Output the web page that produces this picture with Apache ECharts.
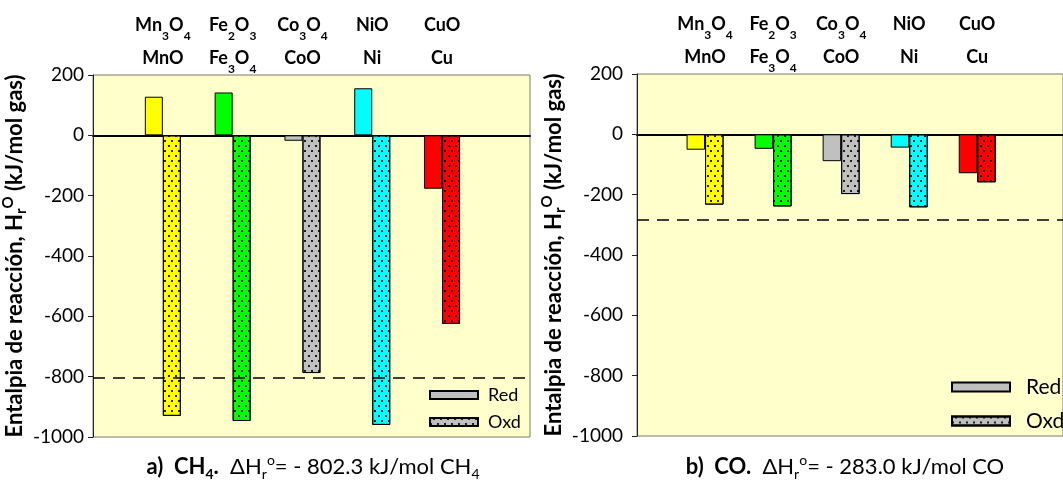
<!DOCTYPE html>
<html>
<head>
<meta charset="utf-8">
<script src="https://cdn.jsdelivr.net/npm/echarts@6/dist/echarts.min.js"></script>
<style>html,body{margin:0;padding:0;background:#fff}#c{width:1063px;height:493px}</style>
</head>
<body>
<div id="c"></div>
<script>
// ---- data ----
const oxidizedLabels = ['{b|Mn}{s|3}{b|O}{s|4}', '{b|Fe}{s|2}{b|O}{s|3}', '{b|Co}{s|3}{b|O}{s|4}', '{b|NiO}', '{b|CuO}'];
const reducedLabels = ['{b|MnO}', '{b|Fe}{s|3}{b|O}{s|4}', '{b|CoO}', '{b|Ni}', '{b|Cu}'];
const barColors = ['#FFFF00', '#00FF00', '#C0C0C0', '#00FFFF', '#FF0000'];
const ch4Red = [128, 142, -18, 156, -177];
const ch4Oxd = [-930, -947, -788, -960, -625];
const coRed = [-51, -48, -89, -44, -129];
const coOxd = [-233, -239, -198, -242, -159];
const ch4Combustion = -802.3;
const coCombustion = -283.0;
const yMin = -1000, yMax = 200, yStep = 200;
const legendNames = ['Red', 'Oxd'];

const FONT = 'Lato';
const chart = echarts.init(document.getElementById('c'), null, {renderer: 'canvas'});

const dots = {
  symbol: 'rect', symbolSize: 1, color: 'rgba(0,0,0,0.85)',
  dashArrayX: [[1.6, 4.4], [0, 3, 1.6, 1.4]], dashArrayY: [1.6, 3], rotation: 0
};

function toPoints(vals) {
  return vals.map((v, i) => ({value: [i + 1, v], itemStyle: {color: barColors[i]}}));
}

const xMax = 6.26;
function topLabel(value) {
  const r = Math.round(value);
  if (Math.abs(value - r) > 1e-6) return '';
  const i = r - 1;
  if (i < 0 || i >= oxidizedLabels.length) return '';
  return oxidizedLabels[i] + '\n' + reducedLabels[i];
}

const grids = [
  {left: 92, top: 75, width: 438, height: 362},
  {left: 637, top: 74, width: 453, height: 362}
];

const xAxes = [], yAxes = [], series = [];
const sets = [
  {red: ch4Red, oxd: ch4Oxd, ref: ch4Combustion, nameGap: 57, labelMargin: 9, barW: 18},
  {red: coRed, oxd: coOxd, ref: coCombustion, nameGap: 56, labelMargin: 14, barW: 18.5}
];

sets.forEach((s, g) => {
  xAxes.push({
    type: 'value', gridIndex: g, min: 0, max: xMax, interval: 1,
    axisLine: {onZero: true, lineStyle: {color: '#000', width: 2}},
    axisTick: {show: false}, axisLabel: {show: false}, splitLine: {show: false}
  });
  xAxes.push({
    type: 'value', gridIndex: g, position: 'top', min: 0, max: xMax, interval: 1,
    axisLine: {show: false, onZero: false}, axisTick: {show: false}, splitLine: {show: false},
    axisLabel: {
      show: true, margin: 0, formatter: topLabel, showMaxLabel: false, showMinLabel: false,
      fontFamily: FONT, fontWeight: 'bold', fontSize: 18, color: '#000', lineHeight: 33,
      rich: {
        b: {fontFamily: FONT, fontWeight: 'bold', fontSize: 18, color: '#000', lineHeight: 33},
        s: {fontFamily: FONT, fontWeight: 'bold', fontSize: 12, color: '#000', lineHeight: 20, verticalAlign: 'bottom'}
      }
    }
  });
  yAxes.push({
    type: 'value', gridIndex: g, min: yMin, max: yMax, interval: yStep,
    name: '{b|Entalpia de reacción, H}{s|r}{p|O}{b| (kJ/mol gas)}',
    nameLocation: 'middle', nameRotate: 90, nameGap: s.nameGap,
    nameTextStyle: {
      fontFamily: FONT, fontWeight: 'bold', fontSize: 22, color: '#000',
      rich: {
        b: {fontFamily: FONT, fontWeight: 'bold', fontSize: 22, color: '#000', lineHeight: 28},
        s: {fontFamily: FONT, fontWeight: 'bold', fontSize: 15, color: '#000', lineHeight: 14, verticalAlign: 'bottom'},
        p: {fontFamily: FONT, fontWeight: 'bold', fontSize: 15, color: '#000', lineHeight: 12, verticalAlign: 'top'}
      }
    },
    axisLine: {show: true, lineStyle: {color: '#222', width: 1}},
    axisTick: {show: true, inside: false, length: 5, lineStyle: {color: '#222'}},
    axisLabel: {fontFamily: FONT, fontSize: 19, color: '#000', margin: s.labelMargin, formatter: v => String(v)},
    splitLine: {show: false}
  });
  const base = {
    type: 'bar', xAxisIndex: g * 2, yAxisIndex: g, barWidth: s.barW, barGap: '0%',
    animation: false, silent: true
  };
  series.push(Object.assign({}, base, {
    name: 'Red',
    itemStyle: {color: '#C0C0C0', borderColor: '#000', borderWidth: 1},
    data: toPoints(s.red)
  }));
  series.push(Object.assign({}, base, {
    name: 'Oxd',
    itemStyle: {color: '#C0C0C0', borderColor: '#000', borderWidth: 1, decal: dots},
    data: toPoints(s.oxd),
    markLine: {
      silent: true, animation: false, symbol: ['none', 'none'], label: {show: false},
      lineStyle: {type: [12, 8], color: '#000', width: 1.5},
      data: [{yAxis: s.ref}]
    }
  }));
});

const capRich = (fs) => ({
  b: {fontFamily: FONT, fontWeight: 'bold', fontSize: fs, color: '#000', lineHeight: 28},
  bs: {fontFamily: FONT, fontWeight: 'bold', fontSize: 14, color: '#000', lineHeight: 14, verticalAlign: 'bottom'},
  n: {fontFamily: FONT, fontSize: fs, color: '#000', lineHeight: 28},
  s: {fontFamily: FONT, fontSize: 14, color: '#000', lineHeight: 14, verticalAlign: 'bottom'},
  p: {fontFamily: FONT, fontSize: 14, color: '#000', lineHeight: 12, verticalAlign: 'top'}
});

chart.setOption({
  backgroundColor: '#fff',
  animation: false,
  grid: grids.map(g => Object.assign({show: true, backgroundColor: '#FFFFCC', borderColor: '#7a7a6a', borderWidth: 1}, g)),
  xAxis: xAxes,
  yAxis: yAxes,
  legend: [
    {data: legendNames, orient: 'vertical', left: 429, top: 385.5, padding: 0, itemWidth: 48, itemHeight: 8, itemGap: 8,
     icon: 'rect', selectedMode: false,
     textStyle: {fontFamily: FONT, fontSize: 18, color: '#000', lineHeight: 19, padding: [0, 0, 0, 5]}},
    {data: legendNames, orient: 'vertical', left: 951, top: 376, padding: 0, itemWidth: 58, itemHeight: 9, itemGap: 12,
     icon: 'rect', selectedMode: false,
     textStyle: {fontFamily: FONT, fontSize: 21, color: '#000', lineHeight: 22, padding: [0, 0, 0, 11]}}
  ],
  graphic: [
    {type: 'text', x: 313, y: 467, silent: true, style: {
      text: '{b|a)  CH}{bs|4}{b|.}{n|  ΔH}{s|r}{p|o}{n|= - 802.3 kJ/mol CH}{s|4}',
      align: 'center', verticalAlign: 'middle', rich: capRich(22)}},
    {type: 'text', x: 845, y: 467, silent: true, style: {
      text: '{b|b)  CO.}{n|  ΔH}{s|r}{p|o}{n|= - 283.0 kJ/mol CO}',
      align: 'center', verticalAlign: 'middle', rich: capRich(22)}}
  ],
  series: series
});
</script>
</body>
</html>
